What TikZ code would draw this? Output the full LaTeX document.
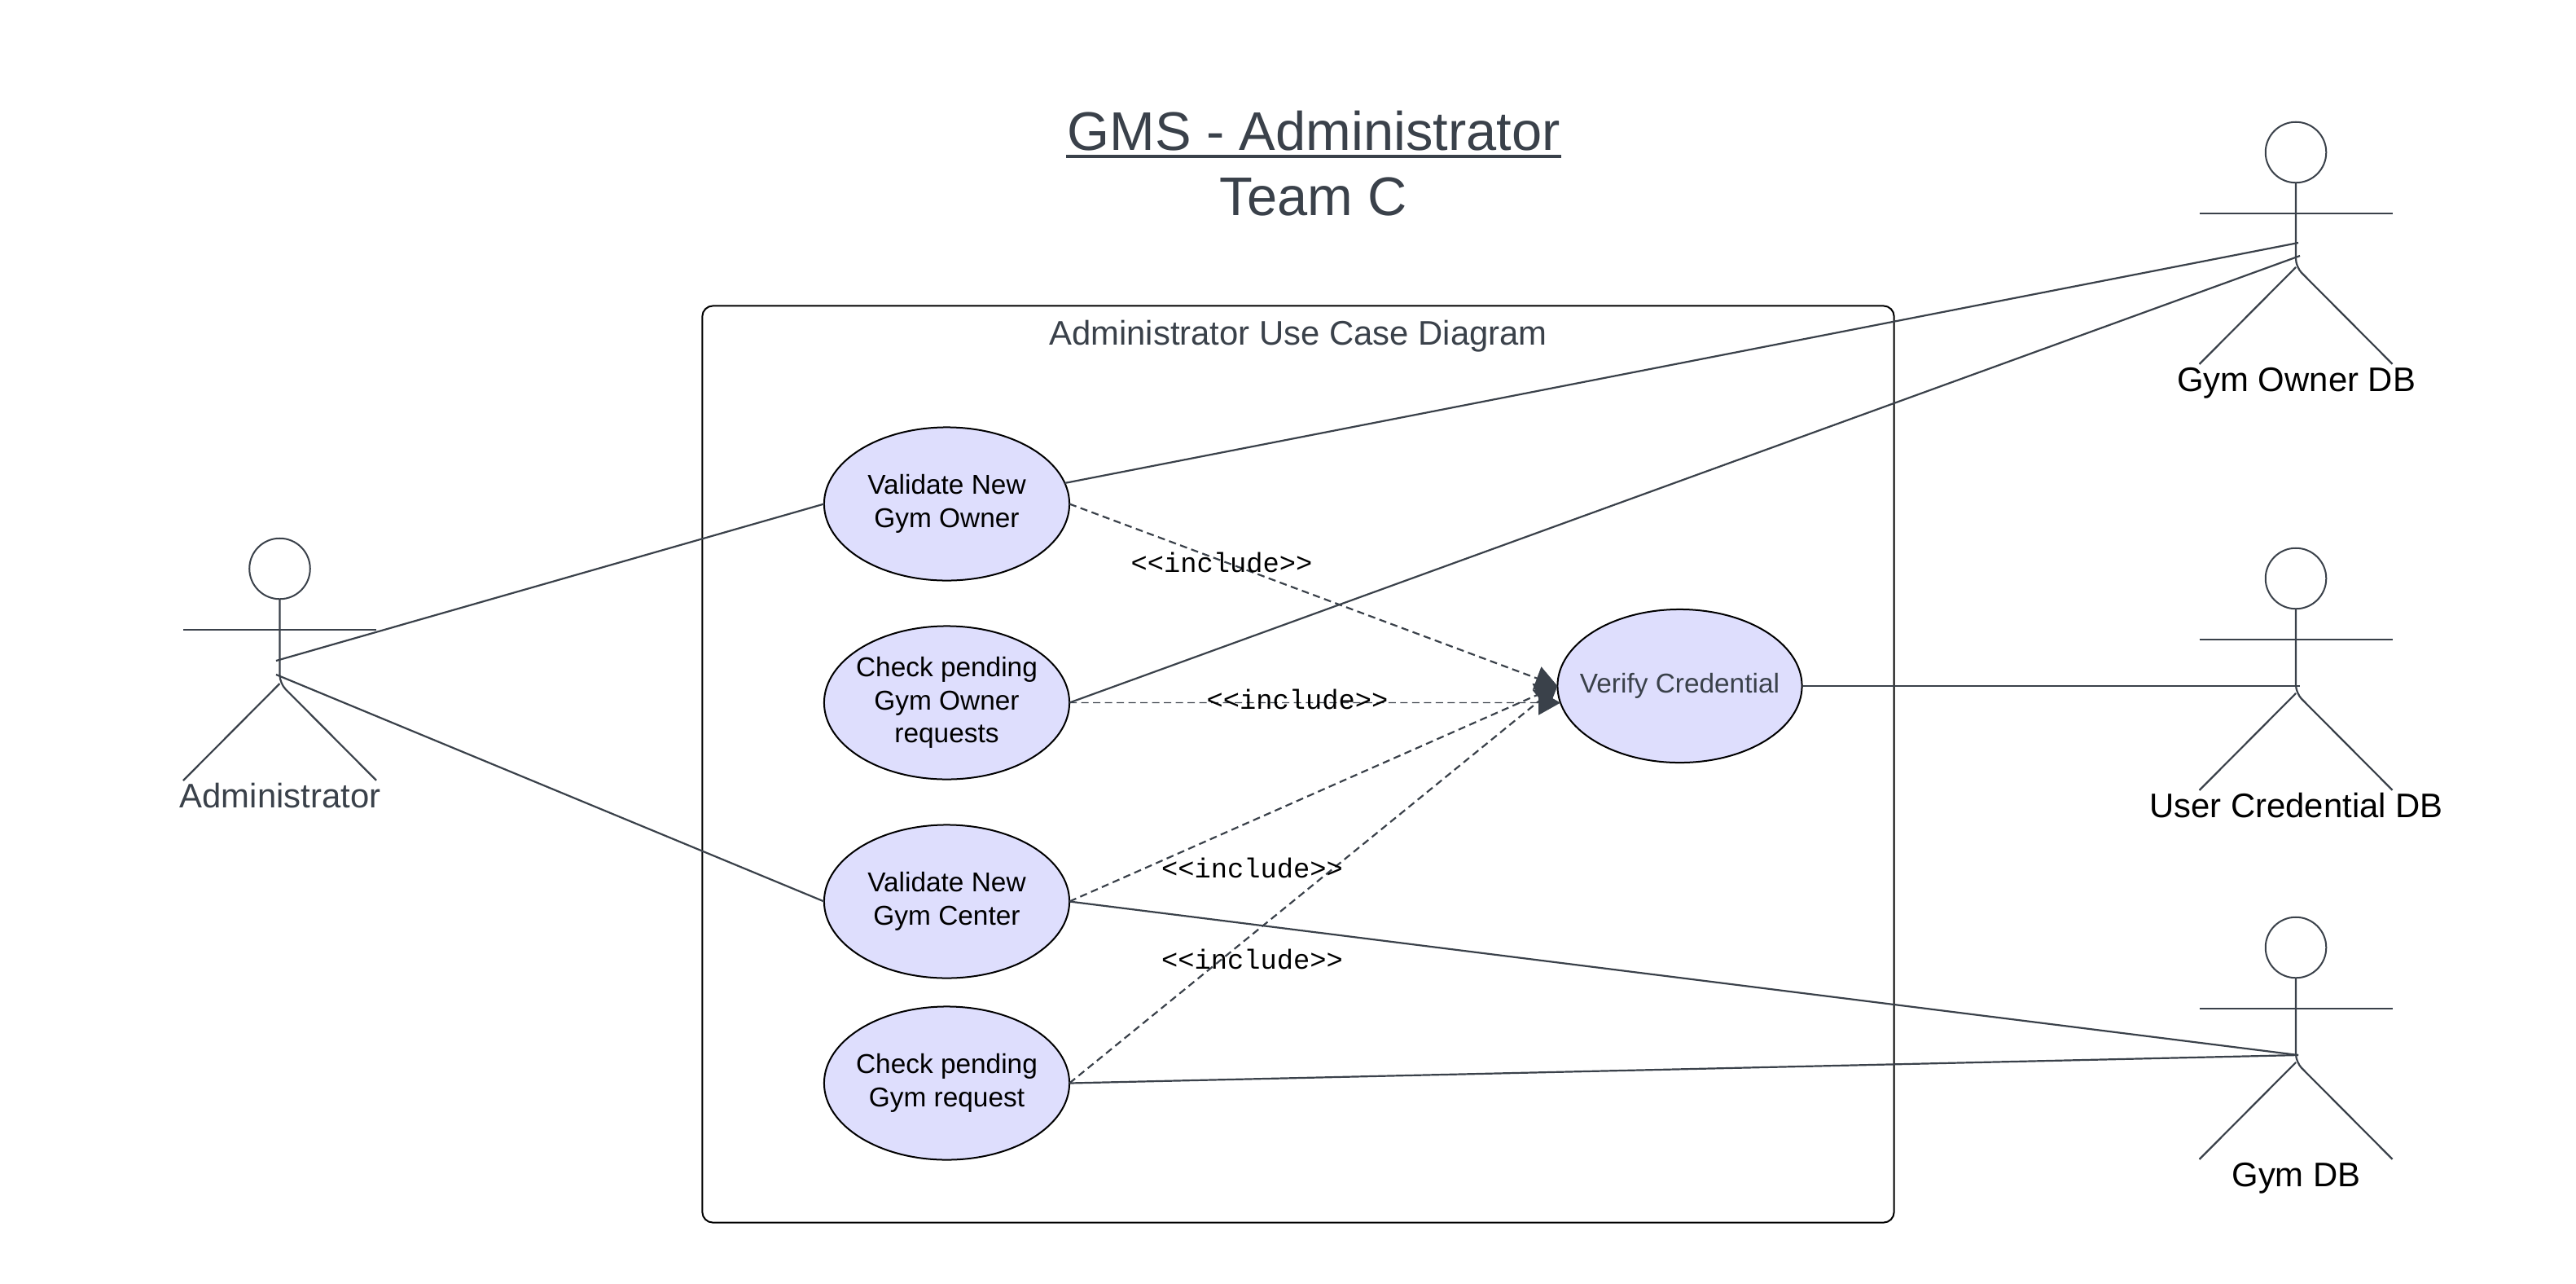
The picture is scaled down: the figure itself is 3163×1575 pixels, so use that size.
\documentclass[tikz,border=0pt]{standalone}
\usepackage{fontspec}
\setmainfont{Liberation Sans}
\setmonofont{Liberation Mono}
\usetikzlibrary{arrows.meta, shapes.geometric}
\definecolor{inkgray}{HTML}{3A414A}
\definecolor{ucfill}{HTML}{DEDEFD}
\newcommand{\titleline}[1]{\vtop{\hbox{\kern0.4pt #1\kern0.4pt}\kern1.4pt\hrule height 1.3pt}}

\tikzset{
  ucase/.style={ellipse, draw=black, fill=ucfill, line width=0.02cm, minimum width=3.01cm, minimum height=1.88cm,
    inner xsep=-0.5cm, inner ysep=0pt, outer sep=0pt, align=center, font=\fontsize{9.5}{11.5}\selectfont},
  head/.style={circle, draw=inkgray, line width=0.02cm, minimum size=0.745cm, inner sep=0pt, outer sep=0pt},
  stick/.style={draw=inkgray, line width=0.022cm},
  assoc/.style={draw=inkgray, line width=0.022cm},
  incl/.style={draw=inkgray, line width=0.022cm, dash pattern=on 0.09cm off 0.055cm, -{Triangle[length=0.27cm,width=0.3cm,fill=inkgray]}},
  incllabel/.style={font=\ttfamily\fontsize{9.6}{11}\selectfont, text=black, inner sep=0pt},
  heading/.style={font=\fontsize{19}{22}\selectfont, text=inkgray, anchor=base, inner sep=0pt},
  bigtext/.style={font=\fontsize{11.9}{14}\selectfont, anchor=base, inner sep=0pt}
}

\begin{document}
\begin{tikzpicture}[x=0.01cm, y=-0.01cm]
\useasboundingbox (0,0) rectangle (3163,1575);

% Heading
\node[heading] (gms) at (1613,184) {\titleline{GMS - Administrator}};
\node[heading] (team) at (1613,264) {Team C};

% System frame and its title
\node[draw=black, line width=0.02cm, rounded corners=0.13cm, minimum width=14.625cm, minimum height=11.245cm, inner sep=0pt, outer sep=0pt] (frame) at (1594,938) {};
\node[bigtext, text=inkgray] (frametitle) at (1594,423) {Administrator Use Case Diagram};

% Use cases
\node[ucase] (ownerCase) at (1162.5,618.5) {Validate New\\Gym Owner};
\node[ucase] (ownerPending) at (1162.5,862.5) {Check pending\\Gym Owner\\requests};
\node[ucase] (centerCase) at (1162.5,1106.5) {Validate New\\Gym Center};
\node[ucase] (gymPending) at (1162.5,1329.5) {Check pending\\Gym request};
\node[ucase, text=inkgray, minimum width=3.0cm] (verify) at (2062.5,842) {Verify Credential};

% Actors
\foreach \who/\hx/\hy/\ink/\txt in {admin/343.5/698/inkgray/Administrator, ownerDB/2819/187/black/Gym Owner DB, credDB/2819/710/black/User Credential DB, gymDB/2819/1163/black/Gym DB} {
  \node[head] (\who) at (\hx,\hy) {};
  \draw[stick, rounded corners=0.1cm] (\who.south) -- ++(0,103.5) -- ++(118.5,119);
  \draw[stick] (\who) ++(0,141) -- ++(-118.5,119);
  \draw[stick] (\who) ++(-118.5,75) -- ++(237,0);
  \node[bigtext, text=\ink] (\who-label) at (\hx+0.5,\hy+293) {\txt};
}

% Free ends of the associations, on the actors
\coordinate (adminTop) at (339,811);
\coordinate (adminLow) at (339,828);
\coordinate (ownerTop) at (2822,298);
\coordinate (ownerLow) at (2824,314);
\coordinate (credEnd) at (2824,842);
\coordinate (gymEnd) at (2822,1295);

% Associations
\draw[assoc] (adminTop) -- (ownerCase.west);
\draw[assoc] (adminLow) -- (centerCase.west);
\draw[assoc] (ownerCase.10) -- (ownerTop);
\draw[assoc] (ownerPending.east) -- (ownerLow);
\draw[assoc] (verify.east) -- (credEnd);
\draw[assoc] (centerCase.east) -- (gymEnd);
\draw[assoc] (gymPending.east) -- (gymEnd);

% Includes
\draw[incl] (ownerCase.east) -- (verify.west);
\draw[incl, line width=0.012cm] (ownerPending.east) -- (verify.188);
\draw[incl] (centerCase.east) -- (verify.west);
\draw[incl] (gymPending.east) -- (verify.west);

\node[incllabel] (inclOwner) at (1500,690) {<<include>>};
\node[incllabel] (inclPending) at (1593,858) {<<include>>};
\node[incllabel] (inclCenter) at (1537.5,1065) {<<include>>};
\node[incllabel] (inclGym) at (1537.5,1177) {<<include>>};

\end{tikzpicture}
\end{document}
